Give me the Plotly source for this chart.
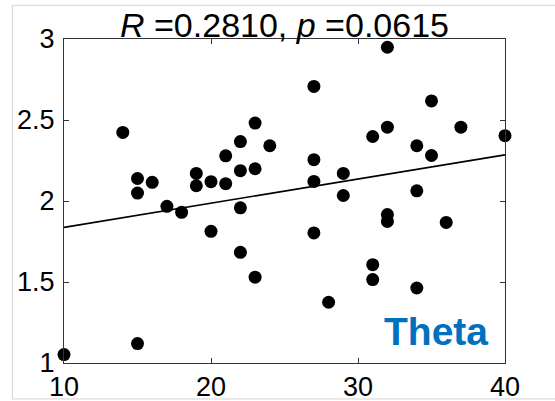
import plotly.graph_objects as go

# Data
age = [10, 14, 15, 15, 15, 16, 17, 18, 19, 19, 20, 20, 21, 21, 22, 22, 22, 22,
       23, 23, 23, 24, 27, 27, 27, 27, 28, 29, 29, 31, 31, 31, 32, 32, 32, 32,
       34, 34, 34, 35, 35, 36, 37, 40]
theta = [1.052, 2.423, 2.139, 2.049, 1.120, 2.115, 1.967, 1.930, 2.170, 2.094,
         2.119, 1.813, 2.279, 2.107, 2.367, 2.187, 1.958, 1.683, 2.481, 2.199,
         1.530, 2.341, 2.707, 2.255, 2.121, 1.803, 1.375, 2.170, 2.034, 2.398,
         1.607, 1.515, 2.949, 2.456, 1.916, 1.874, 2.341, 2.063, 1.463, 2.618,
         2.281, 1.868, 2.456, 2.403]

fit_x = [10, 40]
fit_y = [1.837, 2.285]

x_ticks = [10, 20, 30, 40]
x_tick_labels = ["10", "20", "30", "40"]
y_ticks = [1, 1.5, 2, 2.5, 3]
y_tick_labels = ["1", "1.5", "2", "2.5", "3"]

title_text = "<i>R</i> =0.2810, <i>p</i> =0.0615"
band_label = "Theta"

FONT = "Liberation Sans, Arial, sans-serif"

fig = go.Figure()
fig.add_trace(go.Scatter(
    x=fit_x, y=fit_y, mode="lines",
    line=dict(color="black", width=1.6),
    hoverinfo="skip", showlegend=False,
))
fig.add_trace(go.Scatter(
    x=age, y=theta, mode="markers",
    marker=dict(color="black", size=13, line=dict(width=0)),
    showlegend=False, cliponaxis=False,
))

axis_common = dict(
    showgrid=False, zeroline=False, automargin=False,
    showline=True, linecolor="#333333", linewidth=1,
    mirror="ticks", ticks="inside", ticklen=5, tickwidth=1, tickcolor="#333333",
    tickfont=dict(family=FONT, size=27, color="black"),
)

fig.update_xaxes(range=[10, 40], tickmode="array", tickvals=x_ticks,
                 ticktext=x_tick_labels, ticklabelstandoff=0, **axis_common)
fig.update_yaxes(range=[1, 3], tickmode="array", tickvals=y_ticks,
                 ticktext=y_tick_labels, ticklabelstandoff=3, **axis_common)

fig.add_annotation(
    text=title_text, xref="paper", yref="paper", x=0.5, y=1,
    xanchor="center", yanchor="bottom", yshift=-7, showarrow=False,
    font=dict(family=FONT, size=34, color="black"),
)
fig.add_annotation(
    text="<b>" + band_label + "</b>", xref="paper", yref="paper",
    x=0.9653, y=0.025, xanchor="right", yanchor="bottom", showarrow=False,
    font=dict(family=FONT, size=39, color="#0070C0"),
)

# light grey frame around the picture (right side off canvas)
fig.add_shape(type="rect", xref="paper", yref="paper",
              x0=-0.117, x1=1.3, y0=-0.111, y1=1.104,
              line=dict(color="#d4d4d4", width=1), layer="below")

fig.update_layout(
    width=555, height=401,
    margin=dict(l=64, r=50, t=39, b=38),
    paper_bgcolor="white", plot_bgcolor="white",
)

fig.write_html("out.html")
